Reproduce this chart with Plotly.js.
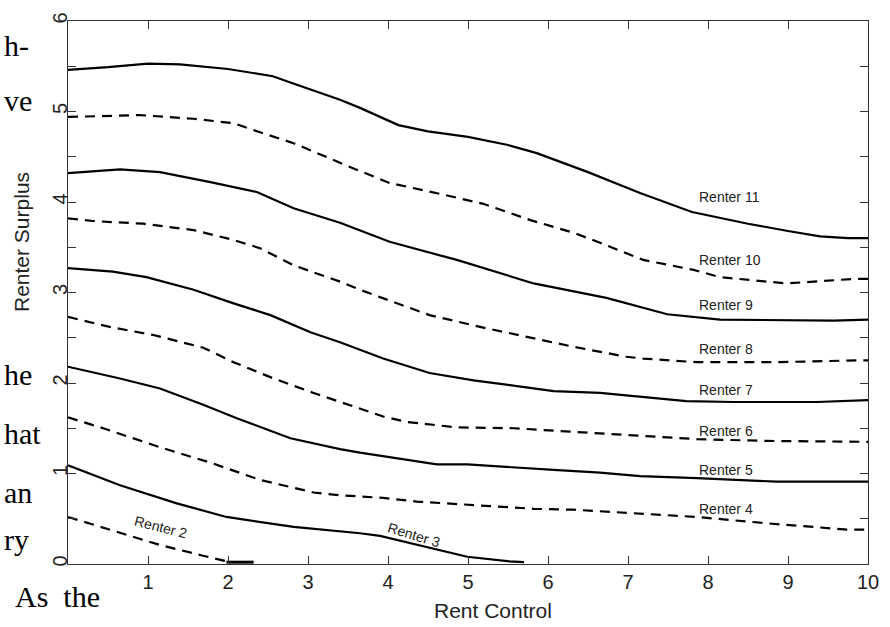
<!DOCTYPE html>
<html>
<head>
<meta charset="utf-8">
<script src="https://cdn.plot.ly/plotly-3.0.1.min.js"></script>
<style>html,body{margin:0;padding:0;background:#fff;}#chart{width:890px;height:627px;}</style>
</head>
<body>
<div id="chart"></div>
<script>
// ---- data ----
const r11x = [0, 0.5, 1.0, 1.4, 2.0, 2.56, 2.78, 3.0, 3.4, 3.65, 4.13, 4.5, 5.0, 5.5, 5.86, 6.5, 7.15, 7.8, 8.5, 9.0, 9.4, 9.75, 10];
const r11y = [5.46, 5.49, 5.53, 5.52, 5.47, 5.39, 5.32, 5.25, 5.13, 5.04, 4.85, 4.78, 4.72, 4.63, 4.54, 4.33, 4.10, 3.89, 3.76, 3.68, 3.62, 3.60, 3.60];

const r10x = [0, 0.9, 1.57, 2.07, 2.4, 2.82, 3.49, 4.02, 4.65, 5.19, 5.78, 6.32, 6.65, 7.19, 7.82, 8.15, 8.98, 9.82, 10];
const r10y = [4.94, 4.96, 4.92, 4.87, 4.77, 4.65, 4.40, 4.21, 4.09, 3.98, 3.80, 3.66, 3.55, 3.36, 3.25, 3.17, 3.10, 3.15, 3.15];

const r9x = [0, 0.65, 1.15, 1.78, 2.36, 2.82, 3.4, 4.02, 4.86, 5.82, 6.73, 7.49, 8.15, 9.57, 10];
const r9y = [4.32, 4.36, 4.33, 4.22, 4.11, 3.93, 3.77, 3.56, 3.36, 3.10, 2.94, 2.76, 2.70, 2.69, 2.70];

const r8x = [0, 0.31, 0.94, 1.57, 2.07, 2.4, 2.82, 3.4, 3.65, 4.52, 5.15, 5.73, 6.32, 6.98, 7.19, 7.86, 8.86, 9.86, 10];
const r8y = [3.82, 3.79, 3.76, 3.69, 3.58, 3.49, 3.30, 3.12, 3.03, 2.75, 2.62, 2.51, 2.40, 2.29, 2.27, 2.23, 2.23, 2.25, 2.25];

const r7x = [0, 0.56, 0.98, 1.57, 2.07, 2.53, 3.03, 3.4, 3.94, 4.52, 5.07, 6.07, 6.65, 7.15, 7.73, 8.32, 9.36, 10];
const r7y = [3.27, 3.23, 3.17, 3.03, 2.88, 2.75, 2.56, 2.45, 2.27, 2.11, 2.03, 1.91, 1.89, 1.85, 1.80, 1.79, 1.79, 1.81];

const r6x = [0, 0.52, 1.07, 1.48, 1.69, 2.07, 2.57, 3.07, 3.4, 3.94, 4.23, 4.86, 5.57, 6.32, 6.98, 7.86, 8.73, 9.9, 10];
const r6y = [2.73, 2.62, 2.53, 2.44, 2.39, 2.23, 2.05, 1.89, 1.79, 1.63, 1.57, 1.51, 1.50, 1.46, 1.42, 1.38, 1.36, 1.35, 1.35];

const r5x = [0, 0.65, 1.15, 1.48, 1.69, 2.11, 2.78, 3.4, 3.65, 4.61, 4.99, 6.07, 6.65, 7.15, 7.86, 8.86, 10];
const r5y = [2.18, 2.05, 1.94, 1.83, 1.76, 1.61, 1.39, 1.27, 1.23, 1.10, 1.10, 1.04, 1.01, 0.97, 0.95, 0.91, 0.91];

const r4x = [0, 0.44, 1.15, 1.78, 2.4, 2.78, 3.07, 3.4, 3.94, 4.36, 5.15, 5.82, 6.32, 7.03, 7.86, 8.73, 9.74, 10];
const r4y = [1.62, 1.50, 1.29, 1.12, 0.93, 0.85, 0.79, 0.76, 0.73, 0.69, 0.65, 0.61, 0.60, 0.56, 0.52, 0.45, 0.38, 0.38];

const r3x = [0, 0.65, 1.36, 1.98, 2.82, 3.65, 3.9, 4.5, 4.99, 5.52, 5.7];
const r3y = [1.09, 0.87, 0.67, 0.52, 0.41, 0.34, 0.31, 0.18, 0.08, 0.03, 0.02];

const r2x = [0, 0.44, 1.15, 1.65, 1.98];
const r2y = [0.52, 0.40, 0.21, 0.10, 0.03];
const r2tailX = [1.98, 2.32];
const r2tailY = [0.02, 0.02];

const renterNames = ["Renter 2", "Renter 3", "Renter 4", "Renter 5", "Renter 6", "Renter 7", "Renter 8", "Renter 9", "Renter 10", "Renter 11"];

const xTickVals = [1, 2, 3, 4, 5, 6, 7, 8, 9, 10];
const xTickText = ["1", "2", "3", "4", "5", "6", "7", "8", "9", "10"];
const yTickVals = [0, 0.5, 1, 1.5, 2, 2.5, 3, 3.5, 4, 4.5, 5, 5.5, 6];
const yTickText = ["0", "", "1", "", "2", "", "3", "", "4", "", "5", "", "6"];

const xTitle = "Rent Control";
const yTitle = "Renter Surplus";
const sideWords = ["h-", "ve", "he", "hat", "an", "ry", "As  the"];

// ---- traces ----
const series = [
  [r2x, r2y, "dash"], [r3x, r3y, "solid"], [r4x, r4y, "dash"], [r5x, r5y, "solid"],
  [r6x, r6y, "dash"], [r7x, r7y, "solid"], [r8x, r8y, "dash"], [r9x, r9y, "solid"],
  [r10x, r10y, "dash"], [r11x, r11y, "solid"]
];
const traces = series.map((s, i) => ({
  type: "scatter", mode: "lines", x: s[0], y: s[1], name: renterNames[i],
  line: { color: "#000", width: 2.2, dash: s[2] === "dash" ? "10px,7px" : "solid", shape: "linear" },
  showlegend: false, hoverinfo: "skip"
}));
traces.push({ type: "scatter", mode: "lines", x: r2tailX, y: r2tailY, name: "Renter 2 (end)",
  line: { color: "#000", width: 3, dash: "solid" }, showlegend: false, hoverinfo: "skip" });

// pixel helpers for paper placement (plot area 68..868 x 21..564)
const L = 68, T = 21, W = 800, H = 543;
const px = p => (p - L) / W;
const py = p => (T + H - p) / H;

const labFont = { family: "Liberation Sans, Arial, sans-serif", size: 14, color: "#222" };
const renterLabelY = [null, null, 0.61, 1.04, 1.475, 1.92, 2.38, 2.86, 3.36, 4.05];
const annotations = [];
for (let i = 2; i < renterNames.length; i++) {
  annotations.push({ xref: "x", yref: "y", x: 7.86, y: renterLabelY[i], text: renterNames[i],
    xanchor: "left", yanchor: "middle", showarrow: false, font: labFont });
}
annotations.push({ xref: "x", yref: "y", x: 1.16, y: 0.41, text: renterNames[0], textangle: 14,
  xanchor: "center", yanchor: "middle", showarrow: false, font: labFont });
annotations.push({ xref: "x", yref: "y", x: 4.33, y: 0.32, text: renterNames[1], textangle: 17,
  xanchor: "center", yanchor: "middle", showarrow: false, font: labFont });

const titleFont = { family: "Liberation Sans, Arial, sans-serif", size: 21, color: "#222" };
annotations.push({ xref: "paper", yref: "paper", x: px(493), y: py(610), text: xTitle,
  xanchor: "center", yanchor: "middle", showarrow: false, font: titleFont });
annotations.push({ xref: "paper", yref: "paper", x: px(22), y: py(242), text: yTitle, textangle: -90,
  xanchor: "center", yanchor: "middle", showarrow: false, font: titleFont });

// page text visible at the left edge
const serif = { family: "Liberation Serif, Times New Roman, serif", size: 30, color: "#000" };
const sideLeft = [2, 2, 2, 2, 2, 2];
const sideMid = [45, 101, 374, 434, 492, 539];
for (let i = 0; i < 6; i++) {
  annotations.push({ xref: "paper", yref: "paper", x: px(sideLeft[i]), y: py(sideMid[i]), text: sideWords[i],
    xanchor: "left", yanchor: "middle", showarrow: false, font: serif });
}
annotations.push({ xref: "paper", yref: "paper", x: px(13), y: py(596), text: sideWords[6],
  xanchor: "left", yanchor: "middle", showarrow: false, font: serif });

const axisCommon = {
  showline: true, linecolor: "#333", linewidth: 1, mirror: "ticks", ticks: "inside", ticklen: 8,
  tickcolor: "#333", tickwidth: 1, showgrid: false, zeroline: false, tickmode: "array",
  tickfont: { family: "Liberation Sans, Arial, sans-serif", size: 20, color: "#222" }
};

const layout = {
  width: 890, height: 627,
  margin: { l: L, r: 890 - L - W, t: T, b: 627 - T - H, pad: 0 },
  paper_bgcolor: "#fff", plot_bgcolor: "#fff",
  showlegend: false,
  xaxis: Object.assign({}, axisCommon, { range: [0, 10], tickvals: xTickVals, ticktext: xTickText }),
  yaxis: Object.assign({}, axisCommon, { range: [0, 6], tickvals: yTickVals, ticktext: yTickText, tickangle: -90, ticklabelstandoff: -8 }),
  annotations: annotations
};

Plotly.newPlot("chart", traces, layout, { staticPlot: true, displayModeBar: false });
</script>
</body>
</html>
